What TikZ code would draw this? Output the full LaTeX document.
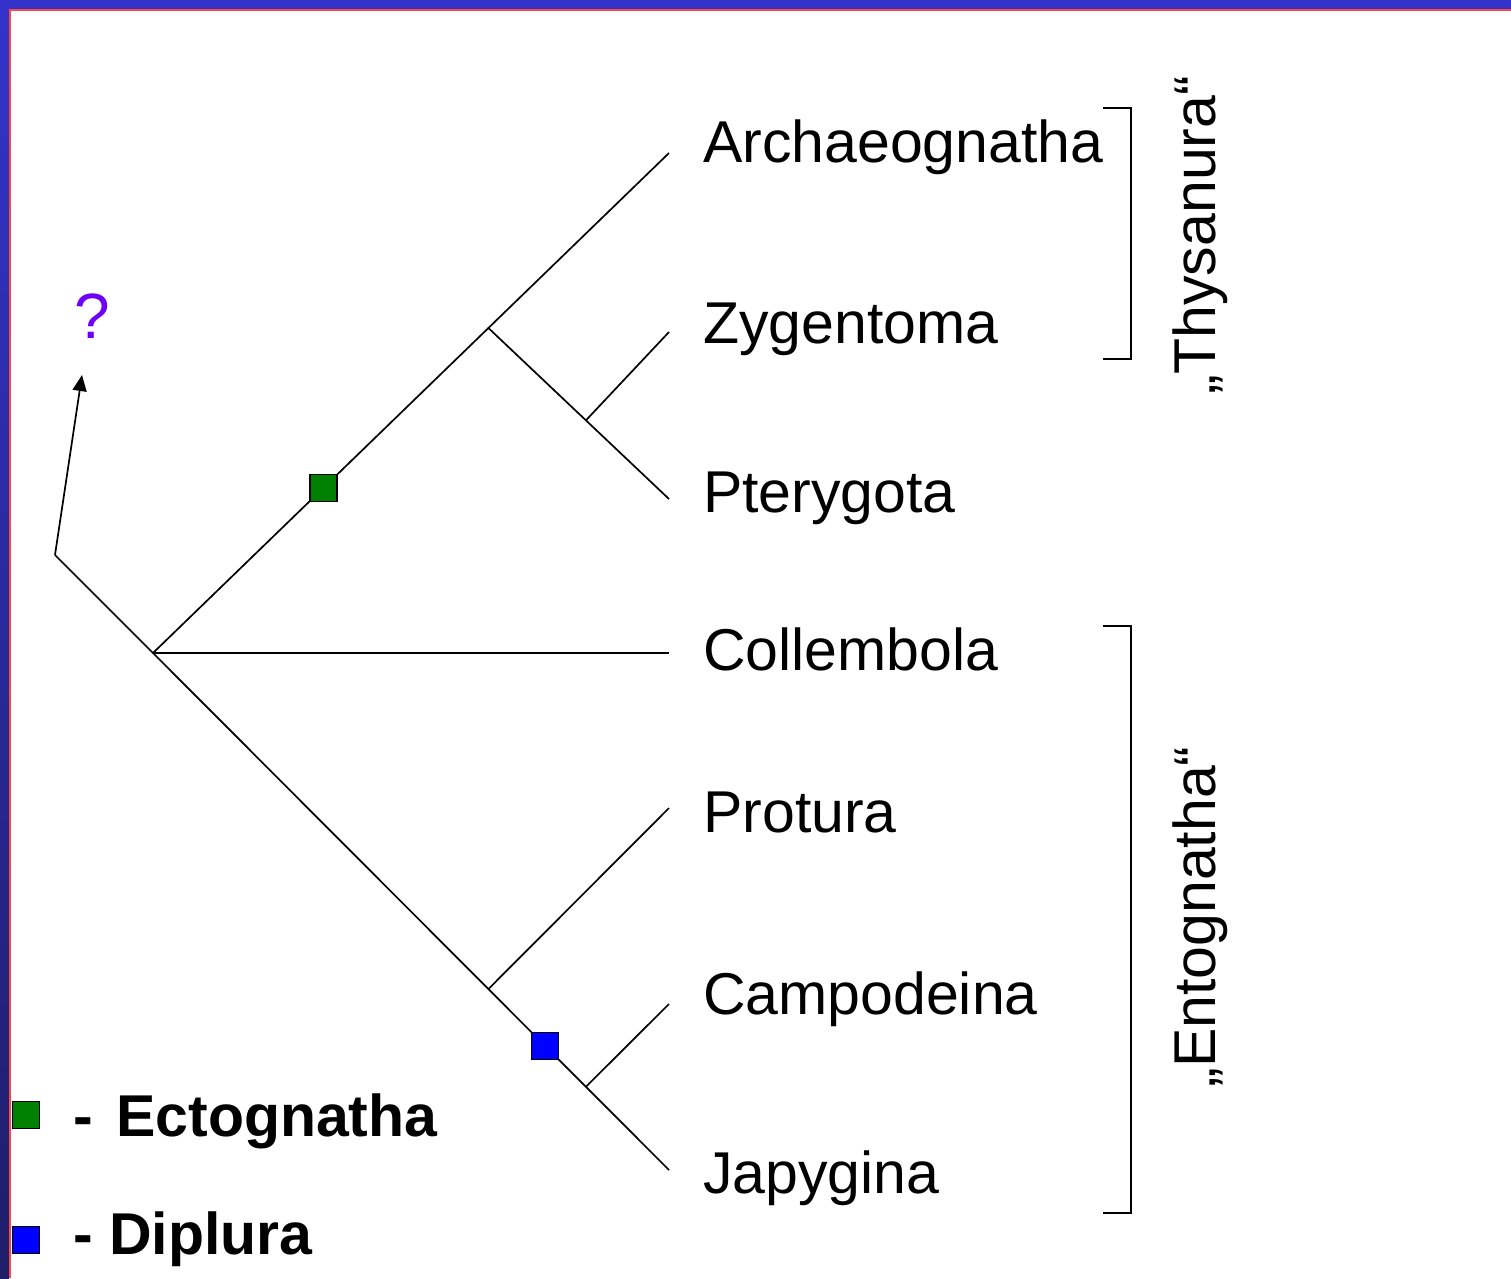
\documentclass[tikz,border=0pt]{standalone}
\usepackage{fontspec}
\setmainfont{Liberation Sans}
\usepackage{xcolor}
\usepackage{tikz}
\usetikzlibrary{arrows.meta,calc}

\definecolor{slideblue}{RGB}{51,51,204}
\definecolor{slidenavy}{RGB}{30,30,105}
\definecolor{slidered}{RGB}{255,70,70}
\definecolor{ectogreen}{RGB}{0,128,0}
\definecolor{diplblue}{RGB}{0,0,255}
\definecolor{askviolet}{RGB}{110,0,245}

\tikzset{
  branch/.style={line width=1.7pt},
  bracket/.style={line width=1.7pt},
  taxon/.style={anchor=base west, inner sep=0pt, font=\fontsize{59}{70}\selectfont},
  group/.style={rotate=90, anchor=base, inner sep=0pt, font=\fontsize{59}{70}\selectfont},
  legend/.style={anchor=base west, inner sep=0pt, font=\fontsize{59}{70}\selectfont\bfseries},
  marker/.style={draw=black, line width=1.5pt, minimum size=27pt, inner sep=0pt},
}

\begin{document}
\begin{tikzpicture}[x=1pt, y=-1pt]
        \useasboundingbox (0,0) rectangle (1511,1278);

        % Frame
        \fill[white] (0,0) rectangle (1511,1278);
        \fill[slideblue] (0,0) rectangle (1511,9);
        \shade[top color=slideblue, bottom color=slidenavy] (0,0) rectangle (9,1278);
        \fill[slidered] (9,9) rectangle (1511,11);
        \fill[slidered] (9,9) rectangle (11,1278);

        % Taxa
        \node[taxon] (archaeognatha) at (703,162) {Archaeognatha};
        \node[taxon] (zygentoma) at (703,343) {Zygentoma};
        \node[taxon] (pterygota) at (703,512) {Pterygota};
        \node[taxon] (collembola) at (703,670) {Collembola};
        \node[taxon] (protura) at (703,832) {Protura};
        \node[taxon] (campodeina) at (703,1014) {Campodeina};
        \node[taxon] (japygina) at (703,1193) {Japygina};

        % Tips and inner nodes
        \coordinate (base) at (55,555);
        \coordinate (root) at (153,653);
        \coordinate (tipA) at (669,153);
        \coordinate (tipZ) at (669,332);
        \coordinate (tipP) at (669,499);
        \coordinate (tipC) at (669,653);
        \coordinate (tipPr) at (669,808);
        \coordinate (tipCa) at (669,1004);
        \coordinate (tipJ) at (669,1170);
        \coordinate (ectonode) at ($(root)!0.65!(tipA)$);
        \coordinate (zygnode) at ($(ectonode)!0.54!(tipP)$);
        \coordinate (entonode) at ($(root)!0.65!(tipJ)$);
        \coordinate (diplnode) at ($(entonode)!0.54!(tipJ)$);
        \coordinate (ancestor) at (82,375);

        % Tree
        \draw[branch] (base) -- (root) -- (tipA);
        \draw[branch] (root) -- (tipC);
        \draw[branch] (root) -- (tipJ);
        \draw[branch] (ectonode) -- (tipP);
        \draw[branch] (zygnode) -- (tipZ);
        \draw[branch] (entonode) -- (tipPr);
        \draw[branch] (diplnode) -- (tipCa);
        \draw[branch, -{Triangle[length=16pt,width=14pt]}] (base) -- (ancestor);
        \node[anchor=base west, inner sep=0pt, text=askviolet,
              font=\fontsize{64}{72}\selectfont] (qmark) at (74,338) {?};

        % Apomorphies
        \node[marker, fill=ectogreen] (ectobox) at ($(root)!0.33!(tipA)$) {};
        \node[marker, fill=diplblue] (diplbox) at ($(root)!0.76!(tipJ)$) {};

        % Groups
        \draw[bracket] (1103,108) -- (1131,108) -- (1131,359) -- (1103,359);
        \draw[bracket] (1103,626) -- (1131,626) -- (1131,1213) -- (1103,1213);
        \node[group] (thysanura) at (1215,235) {„Thysanura“};
        \node[group] (entognatha) at (1215,917) {„Entognatha“};

        % Legend
        \node[marker, fill=ectogreen] (ectokey) at (26,1115) {};
        \node[legend] (ectolabel) at (73,1136) {-\hspace{7pt} Ectognatha};
        \node[marker, fill=diplblue] (diplkey) at (26,1240) {};
        \node[legend] (dipllabel) at (73,1254) {- Diplura};
\end{tikzpicture}
\end{document}
